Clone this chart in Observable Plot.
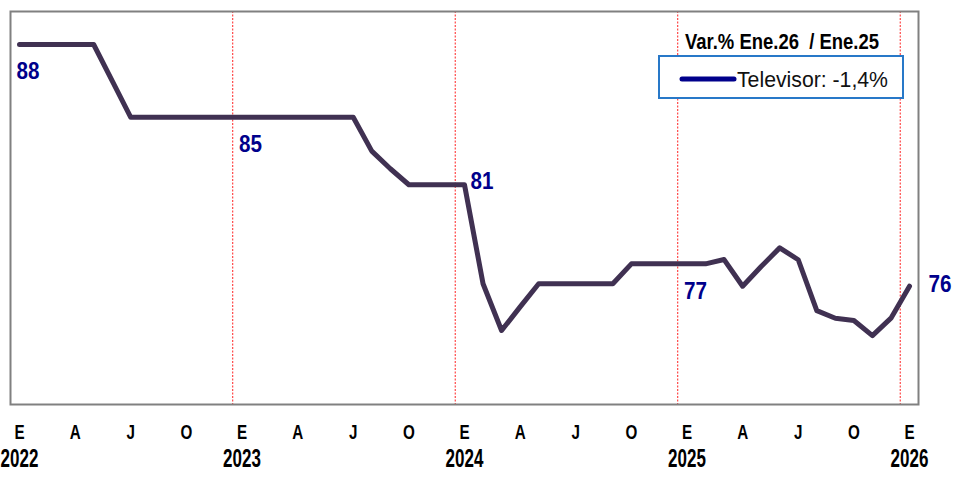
<!DOCTYPE html>
<html>
<head>
<meta charset="utf-8">
<script src="https://cdn.jsdelivr.net/npm/d3@7"></script>
<script src="https://cdn.jsdelivr.net/npm/@observablehq/plot@0.6"></script>
<style>
  html, body { margin: 0; padding: 0; background: #fff; }
  #chart svg { display: block; }
</style>
</head>
<body>
<div id="chart"></div>
<script>
// Monthly index, Jan 2022 (0) .. Jan 2026 (48)
const values = [
  88.1, 88.1, 88.1, 88.1, 88.1, 86.33, 84.55, 84.55, 84.55, 84.55, 84.55, 84.55,   // 2022
  84.55, 84.55, 84.55, 84.55, 84.55, 84.55, 84.55, 82.9, 82.04, 81.26, 81.26, 81.26, // 2023
  81.26, 76.43, 74.15, 75.3, 76.43, 76.43, 76.43, 76.43, 76.43, 77.4, 77.4, 77.4,    // 2024
  77.4, 77.4, 77.61, 76.31, 77.27, 78.18, 77.6, 75.12, 74.75, 74.64, 73.9, 74.75,    // 2025
  76.31                                                                               // 2026
];
const monthLetters = ["E","F","M","A","M","J","J","A","S","O","N","D"];
const tickMonths = d3.range(0, 49, 3);
const yearTicks = [0, 12, 24, 36, 48];
const yearLabels = ["2022", "2023", "2024", "2025", "2026"];
const yearBreaks = [11.5, 23.5, 35.5, 47.5];
const labelBelow = [0, 12, 36];
const labelRight81 = [24];
const labelRight76 = [48];
const legendTitle = "Var.% Ene.26  / Ene.25";
const seriesName = "Televisor";
const annualChange = (values[48] / values[36] - 1) * 100;

const data = values.map((v, i) => ({i, v}));
const font = "'Liberation Sans', Arial, sans-serif";

const fmtLabel = d => d3.format(".0f")(d.v);
const labelStyle = {fill: "#00008B", fontWeight: "bold", fontSize: 24, fontFamily: font, textAnchor: "start"};

const chart = Plot.plot({
  width: 954,
  height: 477,
  marginLeft: 10,
  marginRight: 36,
  marginTop: 11,
  marginBottom: 73,
  x: {type: "linear", domain: [-0.4854, 48.4854], axis: null},
  y: {type: "linear", domain: [70.54, 89.71], axis: null},
  style: {background: "#fff"},
  marks: [
    Plot.ruleX(yearBreaks, {stroke: "#ff2020", strokeWidth: 1, strokeDasharray: "2,1.5"}),
    Plot.frame({stroke: "#808080", strokeWidth: 2}),
    Plot.line(data, {x: "i", y: "v", stroke: "#403152", strokeWidth: 5, strokeLinejoin: "round", strokeLinecap: "round"}),
    Plot.text(data.filter(d => labelBelow.includes(d.i)), {x: "i", y: "v", text: fmtLabel, dx: -3, dy: 27, ...labelStyle}),
    Plot.text(data.filter(d => labelRight81.includes(d.i)), {x: "i", y: "v", text: fmtLabel, dx: 6, dy: -3, ...labelStyle}),
    Plot.text(data.filter(d => labelRight76.includes(d.i)), {x: "i", y: "v", text: fmtLabel, dx: 19, dy: -2, ...labelStyle}),
    Plot.text(tickMonths, {
      x: d => d, frameAnchor: "bottom", text: d => monthLetters[d % 12], dy: 34,
      fill: "#000", fontWeight: "bold", fontSize: 20, fontFamily: font
    }),
    Plot.text(yearTicks, {
      x: d => d, frameAnchor: "bottom", text: (d, k) => yearLabels[k], dy: 62,
      fill: "#000", fontWeight: "bold", fontSize: 25, fontFamily: font
    })
  ]
});

document.getElementById("chart").appendChild(chart);

// Emulate a narrow typeface by horizontally compressing glyphs
function condense(el, factor, exact) {
  const len = el.getComputedTextLength();
  el.setAttribute("textLength", exact != null ? exact : len * factor);
  el.setAttribute("lengthAdjust", "spacingAndGlyphs");
}
const textGroups = chart.querySelectorAll('g[aria-label="text"]');
const factors = [0.86, 0.86, 0.86, 0.76, 0.68];
textGroups.forEach((g, k) => g.querySelectorAll("text").forEach(t => condense(t, factors[k])));

// Legend inside plot area (top-right)
const svg = d3.select(chart);
const g = svg.append("g").attr("class", "legend");
const title = g.append("text")
  .attr("x", 685).attr("y", 41)
  .attr("text-anchor", "start").attr("dominant-baseline", "central")
  .attr("font-family", font).attr("font-weight", "bold").attr("font-size", 22)
  .attr("fill", "#000")
  .style("white-space", "pre")
  .text(legendTitle);
condense(title.node(), 1, 194);
g.append("rect")
  .attr("x", 659).attr("y", 56).attr("width", 244).attr("height", 42)
  .attr("fill", "#fff").attr("stroke", "#2878c8").attr("stroke-width", 2);
g.append("line")
  .attr("x1", 682).attr("x2", 734).attr("y1", 79).attr("y2", 79)
  .attr("stroke", "#00008B").attr("stroke-width", 5).attr("stroke-linecap", "round");
const pct = d3.format(".1f")(annualChange).replace(".", ",").replace("\u2212", "-");
const entry = g.append("text")
  .attr("x", 737).attr("y", 79)
  .attr("text-anchor", "start").attr("dominant-baseline", "central")
  .attr("font-family", font).attr("font-size", 22)
  .attr("fill", "#111")
  .text(`${seriesName}: ${pct}%`);
condense(entry.node(), 1, 151);
</script>
</body>
</html>
